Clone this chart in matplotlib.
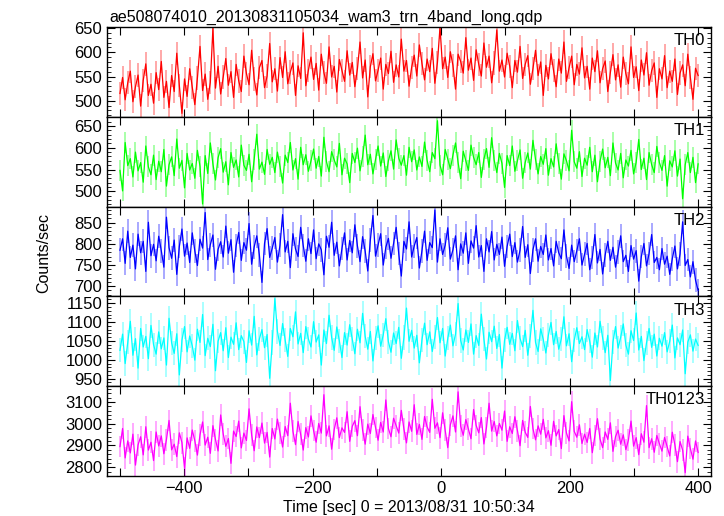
import numpy as np
import matplotlib
matplotlib.use("Agg")
import matplotlib.pyplot as plt
from matplotlib.ticker import MultipleLocator

plt.rcParams['font.family'] = ['Liberation Sans', 'DejaVu Sans']

title = "ae508074010_20130831105034_wam3_trn_4band_long.qdp"
t_start, t_end = -500, 400

th0 = [515, 548, 502, 537, 561, 498, 529, 553, 489, 542, 576, 511, 534, 495, 558,
       523, 581, 507, 540, 486, 552, 519, 598, 531, 474, 545, 509, 566, 528, 492,
       547, 612, 521, 555, 503, 538, 649, 526, 571, 514, 549, 587, 532, 560, 507,
       575, 541, 519, 592, 556, 533, 604, 545, 512, 568, 583, 527, 551, 618, 539,
       566, 520, 589, 548, 601, 535, 559, 578, 511, 572, 546, 640, 531, 563, 590,
       544, 577, 522, 596, 558, 536, 611, 549, 571, 518, 585, 562, 540, 603, 553,
       579, 529, 566, 621, 547, 584, 508, 570, 597, 541, 563, 588, 524, 575, 556,
       602, 538, 574, 549, 627, 561, 583, 530, 569, 594, 551, 615, 577, 543, 586,
       560, 608, 536, 579, 652, 566, 590, 548, 601, 573, 524, 596, 581, 557, 630,
       563, 588, 542, 605, 575, 551, 619, 569, 592, 537, 578, 646, 561, 584, 549,
       598, 571, 527, 583, 559, 612, 546, 575, 593, 534, 566, 604, 552, 580, 511,
       573, 545, 597, 562, 529, 586, 557, 621, 540, 568, 592, 533, 575, 555, 609,
       547, 571, 524, 588, 560, 603, 537, 566, 582, 519, 558, 595, 543, 574, 528,
       590, 556, 535, 611, 548, 570, 521, 584, 553, 599, 532, 562, 578, 507, 566,
       545, 593, 527, 561, 540, 586, 513, 557, 574, 531, 596, 548, 503, 567, 552]

th1 = [548, 501, 612, 559, 575, 533, 590, 547, 566, 521, 604, 556, 538, 583, 527,
       569, 545, 596, 512, 561, 579, 536, 620, 553, 571, 508, 587, 549, 564, 530,
       594, 557, 471, 582, 541, 611, 563, 526, 577, 598, 544, 568, 515, 589, 555,
       572, 533, 606, 560, 548, 585, 522, 574, 631, 551, 567, 539, 596, 562, 578,
       543, 590, 557, 519, 583, 566, 612, 549, 575, 528, 601, 561, 584, 546, 570,
       597, 553, 580, 535, 624, 568, 545, 591, 572, 556, 610, 538, 576, 563, 520,
       587, 566, 599, 547, 579, 629, 561, 585, 540, 573, 604, 558, 588, 534, 570,
       593, 551, 618, 576, 560, 582, 537, 601, 568, 595, 549, 579, 557, 613, 571,
       545, 589, 575, 662, 560, 538, 596, 574, 552, 583, 611, 566, 529, 592, 570,
       548, 606, 578, 561, 589, 532, 574, 598, 555, 623, 571, 543, 587, 564, 509,
       582, 559, 604, 546, 571, 595, 530, 566, 588, 551, 617, 573, 540, 580, 562,
       598, 537, 575, 556, 609, 563, 528, 586, 570, 547, 640, 568, 553, 591, 534,
       576, 560, 601, 545, 583, 522, 569, 597, 554, 578, 536, 611, 565, 549, 587,
       531, 572, 558, 594, 540, 567, 619, 550, 576, 527, 589, 561, 543, 603, 566,
       548, 582, 512, 570, 556, 593, 535, 574, 483, 561, 589, 543, 578, 520, 563]

th2 = [785, 812, 754, 830, 768, 797, 741, 823, 779, 806, 735, 851, 772, 799, 760,
       818, 784, 745, 863, 791, 766, 809, 728, 794, 835, 771, 802, 756, 826, 783,
       749, 811, 790, 874, 763, 798, 821, 740, 787, 805, 769, 842, 778, 810, 733,
       796, 827, 761, 803, 785, 848, 752, 793, 819, 774, 709, 801, 836, 768, 790,
       815, 757, 797, 869, 781, 806, 744, 824, 788, 770, 839, 796, 759, 812, 777,
       833, 765, 800, 786, 727, 818, 792, 851, 773, 804, 748, 789, 826, 762, 808,
       779, 845, 795, 758, 817, 783, 736, 809, 867, 771, 798, 824, 750, 792, 813,
       766, 801, 839, 777, 724, 806, 788, 852, 769, 795, 815, 743, 784, 830, 761,
       803, 791, 880, 757, 812, 775, 797, 838, 764, 786, 819, 739, 800, 778, 826,
       754, 807, 790, 843, 769, 796, 735, 812, 781, 829, 762, 799, 775, 816, 747,
       794, 823, 770, 803, 757, 785, 841, 768, 798, 730, 786, 812, 759, 794, 775,
       821, 762, 789, 748, 806, 779, 765, 833, 771, 742, 797, 758, 784, 812, 750,
       776, 801, 739, 768, 822, 755, 787, 729, 774, 806, 761, 792, 745, 780, 819,
       758, 773, 735, 796, 764, 784, 712, 770, 801, 748, 777, 822, 756, 768, 739,
       789, 752, 771, 728, 765, 795, 741, 776, 852, 749, 763, 722, 758, 714, 690]

th3 = [1025, 1068, 990, 1047, 1102, 1012, 1056, 978, 1083, 1034, 1062, 1003, 1091, 1040, 1015,
       1074, 1029, 1058, 986, 1110, 1045, 1017, 1069, 960, 1052, 1088, 1021, 1063, 1037, 999,
       1081, 1046, 1120, 1011, 1057, 1035, 1094, 971, 1049, 1072, 1024, 1085, 1006, 1060, 1041,
       1098, 1027, 1064, 1048, 993, 1077, 1039, 1115, 1013, 1055, 1080, 1032, 1067, 951, 1046,
       1162, 1075, 1038, 1096, 1052, 1009, 1083, 1061, 1127, 1042, 1070, 1019, 1088, 1055, 1034,
       1101, 1047, 1066, 986, 1079, 1043, 1118, 1059, 1025, 1087, 1050, 1006, 1072, 1039, 1093,
       1054, 1016, 1081, 1045, 1123, 1062, 1028, 1075, 997, 1058, 1090, 1036, 1066, 1109, 1048,
       1020, 1071, 1043, 1086, 1004, 1059, 1137, 1049, 1078, 1031, 1065, 992, 1053, 1097, 1040,
       1074, 1022, 1061, 1112, 1045, 1083, 1010, 1057, 1092, 1037, 1068, 1149, 1051, 1026, 1079,
       1046, 1095, 1015, 1064, 1038, 1121, 1055, 1002, 1073, 1048, 1089, 1030, 1067, 978, 1052,
       1086, 1041, 1070, 1024, 1104, 1057, 1035, 1078, 1012, 1063, 1131, 1046, 1022, 1082, 1054,
       1018, 1066, 1099, 1040, 1075, 1028, 1056, 1114, 1037, 1069, 995, 1052, 1085, 1043, 1061,
       1027, 1080, 1049, 1007, 1071, 1034, 1102, 1058, 1019, 1065, 945, 1047, 1088, 1031, 1060,
       1095, 1039, 1015, 1077, 1051, 1124, 1026, 1062, 998, 1045, 1083, 1033, 1068, 1010, 1057,
       1036, 1072, 1021, 1049, 1092, 1005, 1058, 1040, 1079, 963, 1047, 1066, 1023, 1055, 1038]

th0123 = [2895, 2978, 2843, 2921, 2866, 2952, 2810, 2903, 2940, 2857, 2986, 2879, 2915, 2831, 2962,
          2898, 2944, 2862, 2927, 3015, 2880, 2906, 2849, 2958, 2913, 2796, 2935, 2887, 2971, 2921,
          2856, 2949, 3008, 2902, 2938, 2864, 2991, 2927, 2875, 3040, 2953, 2896, 2932, 2818, 2966,
          2941, 3012, 2889, 2957, 2923, 3068, 2948, 2876, 2985, 2936, 3003, 2911, 2960, 2847, 2978,
          2930, 3021, 2958, 2893, 2987, 2945, 3094, 2966, 2904, 3010, 2951, 2879, 2982, 2939, 3036,
          2969, 2915, 3001, 2957, 3133, 2944, 2990, 2883, 2973, 3027, 2936, 2981, 2960, 3055, 2919,
          2988, 3014, 2945, 3078, 2970, 2906, 2998, 2955, 3042, 2983, 2924, 3006, 2962, 3109, 2978,
          2940, 3025, 2991, 2957, 3061, 2976, 2912, 3008, 2965, 3087, 2951, 2997, 2928, 3033, 2985,
          2960, 3112, 2979, 3004, 2936, 3050, 2971, 2890, 2995, 3036, 2962, 3146, 2988, 2947, 3019,
          2974, 2931, 3065, 2992, 2958, 3028, 2907, 2983, 3094, 2966, 3010, 2944, 3001, 2970, 3058,
          2919, 2986, 2955, 3032, 2968, 2899, 3015, 2961, 2937, 3079, 2978, 2926, 2990, 2952, 3020,
          2935, 2968, 2901, 3011, 2944, 2973, 2886, 3037, 2957, 2921, 3101, 2965, 2938, 2995, 2909,
          2952, 2914, 2978, 2867, 2946, 3023, 2930, 2890, 2962, 2928, 3004, 2873, 2941, 2970, 2906,
          2949, 2881, 2925, 3012, 2897, 2936, 2858, 2954, 2915, 3083, 2890, 2931, 2869, 2946, 2908,
          2874, 2937, 2895, 2852, 2961, 2903, 2826, 2918, 2879, 2775, 2943, 2886, 2837, 2921, 2868]

names = ["TH0", "TH1", "TH2", "TH3", "TH0123"]
series = [th0, th1, th2, th3, th0123]
errors = [24, 24, 28, 32, 50]
colors = ["#ff0000", "#00ff00", "#0000ff", "#00ffff", "#ff00ff"]
ylims = [(467, 652), (465, 671), (676, 888), (930, 1168), (2760, 3172)]
yticks = [[500, 550, 600, 650], [500, 550, 600, 650], [700, 750, 800, 850],
          [950, 1000, 1050, 1100, 1150], [2800, 2900, 3000, 3100]]
yminor = [10, 10, 10, 10, 20]

fig = plt.figure(figsize=(7.24, 5.16), dpi=100)
gs = fig.add_gridspec(5, 1, left=0.148, right=0.982, bottom=0.0775, top=0.9477, hspace=0)

for i in range(5):
    ax = fig.add_subplot(gs[i])
    y = np.array(series[i])
    t = np.linspace(t_start, t_end, len(y))
    # pale error bars behind the curve
    ax.vlines(t, y - errors[i], y + errors[i], color=colors[i], lw=1.2, alpha=0.4)
    ax.plot(t, y, color=colors[i], lw=0.9)
    ax.set_xlim(-520, 420)
    ax.set_ylim(*ylims[i])
    ax.set_yticks(yticks[i])
    ax.yaxis.set_minor_locator(MultipleLocator(yminor[i]))
    ax.xaxis.set_major_locator(MultipleLocator(100))
    ax.tick_params(which='both', direction='in', top=True, right=True, labelsize=12)
    ax.tick_params(which='major', length=6, width=0.8)
    ax.tick_params(which='minor', length=3, width=0.6)
    if i < 4:
        ax.tick_params(labelbottom=False)
    else:
        ax.set_xticks([-500, -400, -300, -200, -100, 0, 100, 200, 300, 400])
        ax.set_xticklabels(["", "\u2212400", "", "\u2212200", "", "0", "", "200", "", "400"])
        ax.set_xlabel("Time [sec] 0 = 2013/08/31 10:50:34", fontsize=11.5, labelpad=3)
    for s in ax.spines.values():
        s.set_linewidth(1.0)
    ax.text(0.99, 0.93, names[i], transform=ax.transAxes, ha='right', va='top', fontsize=12)
    if i == 0:
        ax.set_title(title, loc='left', fontsize=11.5, pad=4, x=0.004)

fig.text(0.06, 0.51, "Counts/sec", rotation=90, ha='center', va='center', fontsize=11.5)
fig.savefig("out.png", dpi=100)
